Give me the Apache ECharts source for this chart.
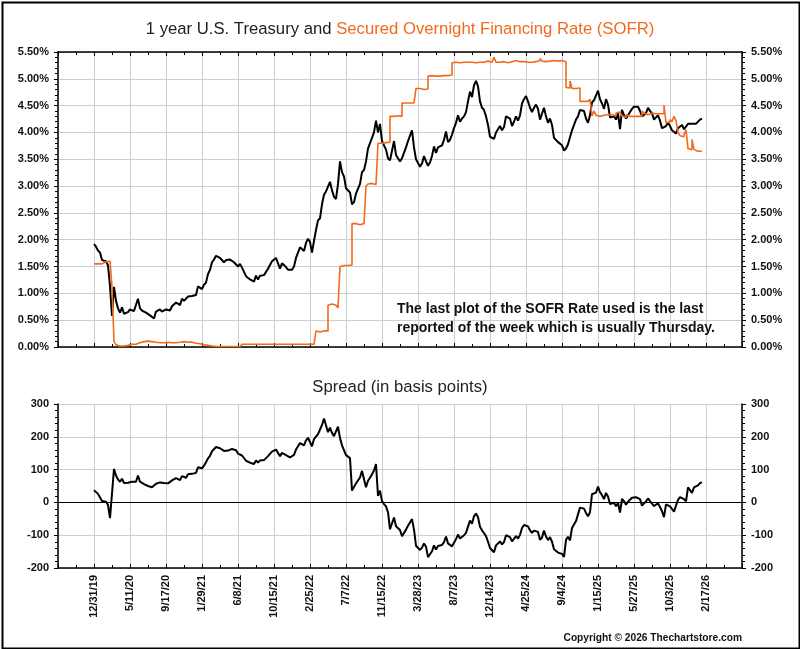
<!DOCTYPE html>
<html>
<head>
<meta charset="utf-8">
<script src="https://cdn.jsdelivr.net/npm/echarts@6/dist/echarts.min.js"></script>
<style>
html,body{margin:0;padding:0;background:#fff;}
#chart{width:800px;height:649px;}
</style>
</head>
<body>
<div id="chart"></div>
<script>
// Trading-day spacing between consecutive samples (samples start at 12/31/19)
var STEP = 5;
// Tick labels, one every 90 trading days starting at sample 0
var dateLabels = ['12/31/19','5/11/20','9/17/20','1/29/21','6/8/21','10/15/21','2/25/22','7/7/22','11/15/22','3/28/23','8/7/23','12/14/23','4/25/24','9/4/24','1/15/25','5/27/25','10/3/25','2/17/26'];

// Treasury yield (%), one value per STEP trading days
var treasury = [
1.92,1.87,1.80,1.76,1.62,1.64,1.60,1.52,1.14,0.58,1.12,0.86,0.72,0.64,0.74,0.62,0.64,0.65,
0.70,0.68,0.67,0.70,0.90,0.72,0.68,0.66,0.64,0.62,0.59,0.56,0.53,0.66,0.68,0.70,0.66,0.68,
0.70,0.67,0.68,0.76,0.74,0.83,0.85,0.78,0.90,0.86,0.84,0.94,0.91,0.95,0.94,0.97,1.13,1.10,
1.08,1.16,1.20,1.36,1.44,1.58,1.63,1.70,1.73,1.66,1.63,1.58,1.62,1.59,1.63,1.64,1.58,1.60,
1.50,1.55,1.48,1.46,1.32,1.30,1.26,1.24,1.22,1.33,1.26,1.33,1.30,1.34,1.37,1.46,1.48,1.60,
1.58,1.66,1.56,1.46,1.56,1.55,1.49,1.44,1.42,1.44,1.50,1.66,1.76,1.86,1.84,1.79,1.94,2.02,
1.96,1.76,1.98,2.18,2.36,2.40,2.66,2.84,2.90,2.92,3.08,2.92,2.80,2.76,3.04,3.46,3.26,3.18,
2.96,2.96,2.88,2.66,2.70,2.86,2.88,3.04,3.26,3.30,3.46,3.70,3.80,3.90,4.00,4.22,4.00,4.16,
3.84,3.76,3.68,3.52,3.48,3.66,3.84,3.58,3.52,3.46,3.52,3.54,3.72,3.84,3.94,4.04,3.72,3.50,
3.52,3.36,3.42,3.56,3.46,3.38,3.44,3.56,3.74,3.62,3.72,3.74,3.76,3.86,4.02,3.82,3.86,3.96,
4.08,4.18,4.32,4.20,4.26,4.30,4.38,4.58,4.76,4.66,4.88,4.96,4.86,4.58,4.46,4.42,4.30,4.14,
3.92,3.90,3.88,4.00,4.06,4.12,4.04,4.10,4.30,4.30,4.26,4.12,4.20,4.30,4.22,4.32,4.54,4.62,
4.68,4.58,4.46,4.38,4.46,4.52,4.44,4.24,4.26,4.46,4.30,4.18,4.26,4.14,3.90,3.86,3.82,3.84,
3.76,3.66,3.70,3.78,3.80,4.04,4.06,4.24,4.30,4.42,4.44,4.40,4.26,4.18,4.32,4.56,4.60,4.62,
4.78,4.62,4.54,4.44,4.62,4.52,4.28,4.28,4.30,4.24,4.36,4.06,4.42,4.32,4.26,4.32,4.38,4.44,
4.48,4.46,4.48,4.40,4.30,4.28,4.36,4.46,4.40,4.36,4.24,4.28,4.32,4.22,4.08,4.06,4.12,4.18,
4.12,4.04,4.02,3.98,4.08,4.10,4.14,4.06,4.08,4.16,4.18,4.16,4.14,4.16,4.16,4.24,4.26
];

// SOFR (%), same sampling
var sofr = [
1.55,1.55,1.54,1.55,1.58,1.59,1.58,1.60,1.62,1.12,0.10,0.04,0.02,0.01,0.02,0.03,0.03,0.05,
0.05,0.05,0.05,0.07,0.08,0.09,0.10,0.10,0.11,0.12,0.10,0.10,0.09,0.09,0.08,0.09,0.08,0.09,
0.09,0.09,0.08,0.09,0.08,0.09,0.09,0.10,0.10,0.09,0.09,0.08,0.09,0.08,0.07,0.07,0.06,0.05,
0.04,0.04,0.03,0.02,0.02,0.02,0.01,0.01,0.01,0.01,0.01,0.01,0.01,0.01,0.01,0.01,0.01,0.01,
0.01,0.02,0.05,0.05,0.05,0.05,0.05,0.05,0.05,0.05,0.05,0.05,0.05,0.05,0.05,0.05,0.05,0.05,
0.05,0.05,0.05,0.05,0.05,0.05,0.05,0.05,0.05,0.05,0.05,0.05,0.05,0.05,0.05,0.05,0.05,0.05,
0.05,0.05,0.05,0.30,0.28,0.28,0.30,0.28,0.30,0.78,0.80,0.80,0.78,0.75,0.73,1.50,1.52,1.50,
1.52,1.55,1.53,2.30,2.30,2.28,2.28,2.28,2.30,2.28,3.00,3.04,3.05,3.04,3.03,3.05,3.80,3.80,
3.80,3.81,3.80,3.82,4.30,4.30,4.30,4.31,4.30,4.30,4.55,4.55,4.55,4.55,4.55,4.55,4.55,4.82,
4.82,4.81,4.80,4.81,4.81,5.05,5.06,5.05,5.05,5.06,5.05,5.05,5.06,5.07,5.06,5.07,5.07,5.30,
5.31,5.30,5.30,5.30,5.31,5.30,5.31,5.32,5.31,5.31,5.30,5.30,5.31,5.32,5.31,5.32,5.33,5.34,
5.31,5.32,5.40,5.31,5.31,5.31,5.32,5.31,5.30,5.31,5.32,5.31,5.34,5.33,5.32,5.31,5.32,5.31,
5.31,5.31,5.31,5.31,5.32,5.33,5.34,5.38,5.33,5.32,5.34,5.33,5.32,5.34,5.33,5.33,5.35,5.34,
5.33,5.32,4.84,4.83,4.96,4.82,4.82,4.81,4.83,4.58,4.58,4.59,4.58,4.60,4.62,4.31,4.40,4.32,
4.30,4.31,4.32,4.34,4.33,4.34,4.33,4.32,4.31,4.36,4.38,4.37,4.31,4.28,4.33,4.30,4.31,4.30,
4.31,4.30,4.29,4.30,4.40,4.36,4.33,4.34,4.36,4.35,4.35,4.34,4.35,4.36,4.35,4.51,4.18,4.20,
4.24,4.20,4.30,4.22,4.00,3.94,3.92,3.96,4.05,3.70,3.68,3.87,3.68,3.65,3.64,3.65,3.65
];

var ORANGE = '#F26B1D';
var GRIDC = '#cfcfcf';
var FONT = 'Liberation Sans, Arial, sans-serif';

var tData = treasury.map(function(v,i){return [i*STEP, v];});
var sData = sofr.map(function(v,i){return [i*STEP, v];});
var spreadData = treasury.map(function(v,i){return [i*STEP, Math.round((v - sofr[i])*100)];});

function xLabel(v){
  var k = v/90;
  if (v >= 0 && Math.abs(k - Math.round(k)) < 1e-6 && Math.round(k) < dateLabels.length) return dateLabels[Math.round(k)];
  return '';
}

function xAxisBase(grid, pos, labels){
  return {
    type:'value', gridIndex:grid, position:pos, min:-90, max:1620, interval:90,
    axisLine:{show:true, onZero:false, lineStyle:{color:'#000', width:1.5}},
    axisTick:{show:true, inside:true, length:4, lineStyle:{color:'#000', width:1}},
    minorTick:{show:true, splitNumber:2, length:3, lineStyle:{color:'#000', width:1}},
    splitLine:{show: pos==='bottom', lineStyle:{color:GRIDC, width:1}},
    minorSplitLine:{show:false},
    axisLabel: labels ? {show:true, rotate:90, margin:7, formatter:xLabel,
      fontFamily:FONT, fontSize:11, fontWeight:'bold', color:'#111', showMinLabel:false, showMaxLabel:false} : {show:false}
  };
}

function yAxisBase(grid, pos, min, max, interval, fmt){
  return {
    type:'value', gridIndex:grid, position:pos, min:min, max:max, interval:interval,
    axisLine:{show:true, onZero:false, lineStyle:{color:'#000', width:1.5}},
    axisTick:{show:true, inside:false, length:4, lineStyle:{color:'#000'}},
    minorTick:{show:true, splitNumber:5, length:3, lineStyle:{color:'#000'}},
    splitLine:{show: pos==='left', lineStyle:{color:GRIDC, width:1}},
    axisLabel:{show:true, margin:9, formatter:fmt, fontFamily:FONT, fontSize:11, fontWeight:'bold', color:'#111'}
  };
}

var pct = function(v){return v.toFixed(2)+'%';};
var bp = function(v){return String(v);};

var chart = echarts.init(document.getElementById('chart'), null, {renderer:'canvas'});
chart.setOption({
  animation:false,
  backgroundColor:'#fff',
  title:[
    {text:'{a|1 year U.S. Treasury and }{b|Secured Overnight Financing Rate (SOFR)}', left:'center', top:16,
     textStyle:{fontWeight:'normal', rich:{a:{fontFamily:FONT, fontSize:16.7, fontWeight:'normal', color:'#222'}, b:{fontFamily:FONT, fontSize:16.7, fontWeight:'normal', color:ORANGE}}}},
    {text:'Spread (in basis points)', left:'center', top:374, textStyle:{fontFamily:FONT, fontSize:16.7, fontWeight:'normal', color:'#222'}},
    {text:'Copyright \u00a9 2026 Thechartstore.com', right:53, top:628, textStyle:{fontFamily:FONT, fontSize:10.2, fontWeight:'bold', color:'#111'}}
  ],
  grid:[
    {left:58, right:58, top:52, height:295, containLabel:false},
    {left:58, right:58, top:404, height:164, containLabel:false}
  ],
  xAxis:[
    xAxisBase(0,'bottom',false),
    xAxisBase(0,'top',false),
    xAxisBase(1,'bottom',true)
  ],
  yAxis:[
    yAxisBase(0,'left',0,5.5,0.5,pct),
    yAxisBase(0,'right',0,5.5,0.5,pct),
    yAxisBase(1,'left',-200,300,100,bp),
    yAxisBase(1,'right',-200,300,100,bp)
  ],
  series:[
    {name:'Treasury', type:'line', xAxisIndex:0, yAxisIndex:0, data:tData, showSymbol:false, symbol:'none',
     lineStyle:{color:'#000', width:2}, z:3},
    {name:'SOFR', type:'line', xAxisIndex:0, yAxisIndex:0, data:sData, showSymbol:false, symbol:'none', step:'end',
     lineStyle:{color:ORANGE, width:1.6}, z:4},
    {name:'Spread', type:'line', xAxisIndex:2, yAxisIndex:2, data:spreadData, showSymbol:false, symbol:'none',
     lineStyle:{color:'#000', width:2}, z:3,
     markLine:{silent:true, symbol:'none', label:{show:false}, lineStyle:{color:'#000', width:1, type:'solid'},
       data:[{yAxis:0}], animation:false}}
  ],
  graphic:[
    {type:'text', left:397, top:300, z:10,
     style:{text:'The last plot of the SOFR Rate used is the last\nreported of the week which is usually Thursday.',
       font:'bold 14px '+FONT, fill:'#111', lineHeight:19}},
    {type:'rect', left:0, top:0, z:10, silent:true,
     shape:{x:1, y:1, width:797, height:646}, style:{fill:'none', stroke:'#000', lineWidth:2}}
  ]
});
</script>
</body>
</html>
